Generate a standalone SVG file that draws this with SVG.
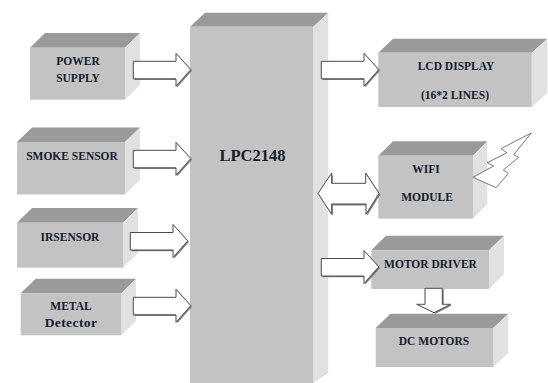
<svg xmlns="http://www.w3.org/2000/svg" width="548" height="383" viewBox="0 0 548 383">
<style>
.f{fill:#c3c3c3}.t{fill:#9a9a9a}.s{fill:#e1e1e1}
text{font-family:"Liberation Serif",serif;font-weight:bold;font-size:11.500px;fill:#14202c;text-anchor:middle}
.big{font-size:16.500px}
.mix{font-size:13.500px;letter-spacing:.4px}
.sh{fill:#5a5a5a;opacity:.75;stroke:none}
.a{fill:#fff;stroke:#4a4a4a;stroke-width:1;stroke-linejoin:miter}
</style>
<defs>
<path id="ar" d="M0 8V25.500H42.700V33L57.500 16.300L42.700 0V8Z"/>
</defs>
<rect width="548" height="383" fill="#fff"/>
<g id="lpc2148">
<polygon class="t" points="190,26.700 205,12.700 328.300,12.700 313.300,26.700"/>
<polygon class="s" points="313.300,26.700 328.300,12.700 328.300,373 313.300,383"/>
<rect class="f" x="190" y="26.700" width="123.300" height="356.300"/>
<text class="big" x="252.500" y="161">LPC2148</text>
</g>
<g id="power-supply">
<polygon class="t" points="30,47.700 45,33 140,33 125,47.700"/>
<polygon class="s" points="125,47.700 140,33 140,85 125,99.700"/>
<rect class="f" x="30" y="47.700" width="95" height="52"/>
<text x="78" y="64.500">POWER</text><text x="78" y="81.500">SUPPLY</text>
</g>
<g id="smoke-sensor">
<polygon class="t" points="17,142 32,127.500 140,127.500 125,142"/>
<polygon class="s" points="125,142 140,127.500 140,180 125,194.500"/>
<rect class="f" x="17" y="142" width="108" height="52.500"/>
<text x="72" y="160">SMOKE SENSOR</text>
</g>
<g id="ir-sensor">
<polygon class="t" points="17,222.700 32,208 138,208 123,222.700"/>
<polygon class="s" points="123,222.700 138,208 138,253 123,267.700"/>
<rect class="f" x="17" y="222.700" width="106" height="45"/>
<text x="70" y="240.500">IRSENSOR</text>
</g>
<g id="metal-detector">
<polygon class="t" points="20.700,293.300 35.700,278.700 136,278.700 121.300,293.300"/>
<polygon class="s" points="121.300,293.300 136,278.700 136,321 121.300,335.300"/>
<rect class="f" x="20.700" y="293.300" width="100.600" height="42"/>
<text x="71" y="310">METAL</text><text class="mix" x="71" y="327.300">Detector</text>
</g>
<g id="lcd-display">
<polygon class="t" points="378.300,52.700 393,38.700 547.300,38.700 531.700,52.700"/>
<polygon class="s" points="531.700,52.700 547.300,38.700 547.300,93 531.700,107"/>
<rect class="f" x="378.300" y="52.700" width="153.400" height="54.300"/>
<text x="456" y="70">LCD DISPLAY</text><text x="455" y="98.500">(16*2 LINES)</text>
</g>
<g id="wifi-module">
<polygon class="t" points="378.300,155.700 393,141.300 487.300,141.300 473,155.700"/>
<polygon class="s" points="473,155.700 487.300,141.300 487.300,204 473,218.700"/>
<rect class="f" x="378.300" y="155.700" width="94.700" height="63"/>
<text x="426" y="172.700">WIFI</text><text x="427" y="201">MODULE</text>
<polygon fill="#fff" stroke="#555" stroke-width=".8" points="531.300,133 501,148.700 507,152.700 487.300,162.700 493.700,166 473,177.300 496.300,187.700 508.300,173.300 503.300,170 518.700,157.300 513.700,154.700"/>
</g>
<g id="motor-driver">
<polygon class="t" points="371.300,250.300 386,235.700 504,235.700 489,250.300"/>
<polygon class="s" points="489,250.300 504,235.700 504,274 489,289"/>
<rect class="f" x="371.300" y="250.300" width="117.700" height="38.700"/>
<text x="430.500" y="268.300">MOTOR DRIVER</text>
</g>
<g id="dc-motors">
<polygon class="t" points="375.700,328 390.500,313.700 508.300,313.700 493.300,328"/>
<polygon class="s" points="493.300,328 508.300,313.700 508.300,353 493.300,367"/>
<rect class="f" x="375.700" y="328" width="117.600" height="39"/>
<text x="434" y="345">DC MOTORS</text>
</g>
<g id="connectors">
<use href="#ar" class="sh" transform="translate(134.500,54.500)"/><use href="#ar" class="a" transform="translate(133.300,53.300)"/>
<use href="#ar" class="sh" transform="translate(134.500,143.500)"/><use href="#ar" class="a" transform="translate(133.300,142.300)"/>
<use href="#ar" class="sh" transform="translate(131.500,225.700)"/><use href="#ar" class="a" transform="translate(130.300,224.500)"/>
<use href="#ar" class="sh" transform="translate(134.500,290.500)"/><use href="#ar" class="a" transform="translate(133.300,289.300)"/>
<use href="#ar" class="sh" transform="translate(322.500,54.500)"/><use href="#ar" class="a" transform="translate(321.300,53.300)"/>
<use href="#ar" class="sh" transform="translate(322.500,251.700)"/><use href="#ar" class="a" transform="translate(321.300,250.500)"/>
<path class="sh" d="M331.700 173L318 193.300L331.700 214.300V204H366V214.300L379 193.300L365.700 173V183.300H331.700Z" transform="translate(1.200,1.500)"/>
<path class="a" d="M331.700 173L318 193.300L331.700 214.300V204H366V214.300L379 193.300L365.700 173V183.300H331.700Z"/>
<path class="sh" d="M425 288.300V304.300H416.700L434 312.700L450.700 304.300H442.300V288.300Z" transform="translate(1.500,1)"/>
<path class="a" d="M425 288.300V304.300H416.700L434 312.700L450.700 304.300H442.300V288.300Z"/>
</g>
</svg>
